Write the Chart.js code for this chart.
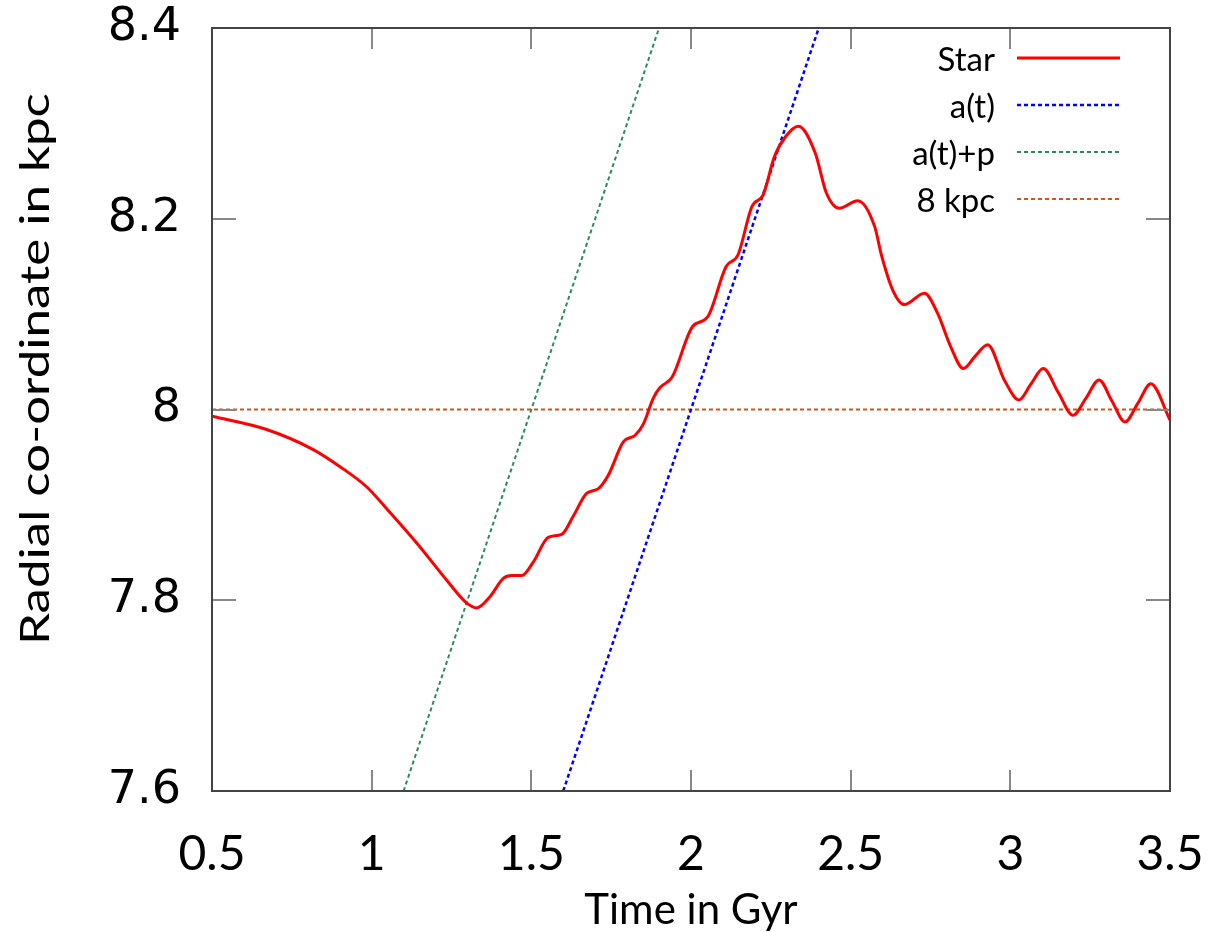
<!DOCTYPE html>
<html>
<head>
<meta charset="utf-8">
<script src="https://cdn.jsdelivr.net/npm/chart.js@4.4.1/dist/chart.umd.min.js"></script>
<style>
  html, body { margin: 0; padding: 0; background: #fff; }
  #graficcontainer { width: 1224px; height: 932px; }
</style>
</head>
<body>
<div id="graficcontainer"><canvas id="grafico" width="1224" height="932"></canvas></div>
<script>
// valores
const starTime = [0.5, 0.671, 0.817, 0.901, 0.984, 1.047, 1.141, 1.235, 1.298, 1.329, 1.371, 1.412, 1.439, 1.47,
  1.506, 1.553, 1.595, 1.631, 1.673, 1.71, 1.741, 1.788, 1.825, 1.851, 1.882, 1.903, 1.941, 2.005, 2.052,
  2.11, 2.147, 2.191, 2.226, 2.261, 2.296, 2.336, 2.389, 2.424, 2.464, 2.522, 2.575, 2.597, 2.632, 2.668,
  2.731, 2.772, 2.813, 2.853, 2.89, 2.929, 2.981, 3.027, 3.065, 3.103, 3.15, 3.196, 3.237, 3.278, 3.318,
  3.359, 3.4, 3.44, 3.5]
const starRadius = [7.993, 7.979, 7.958, 7.94, 7.919, 7.896, 7.86, 7.821, 7.797, 7.792, 7.804, 7.823, 7.826, 7.826,
  7.84, 7.866, 7.869, 7.888, 7.912, 7.917, 7.931, 7.966, 7.973, 7.985, 8.012, 8.023, 8.034, 8.087, 8.097,
  8.15, 8.162, 8.213, 8.225, 8.265, 8.286, 8.297, 8.269, 8.227, 8.211, 8.219, 8.192, 8.161, 8.125, 8.11,
  8.122, 8.101, 8.066, 8.043, 8.056, 8.068, 8.031, 8.01, 8.027, 8.043, 8.018, 7.994, 8.012, 8.031, 8.009,
  7.987, 8.007, 8.027, 7.989]
const aTime = [1.6, 2.4]
const aRadius = [7.6, 8.4]
const apTime = [1.1, 1.9]
const apRadius = [7.6, 8.4]
const refTime = [0.5, 3.5]
const refRadius = [8, 8]
const seriesNames = ['Star', 'a(t)', 'a(t)+p', '8 kpc']

const xTicks = [0.5, 1, 1.5, 2, 2.5, 3, 3.5]
const xTickLabels = ['0.5', '1', '1.5', '2', '2.5', '3', '3.5']
const yTicks = [7.6, 7.8, 8, 8.2, 8.4]
const yTickLabels = ['7.6', '7.8', '8', '8.2', '8.4']

const toPoints = (xs, ys) => xs.map((x, i) => ({ x: x, y: ys[i] }))

// marco, ticks hacia adentro, leyenda y titulo Y al estilo gnuplot
const gnuplotLook = {
  id: 'gnuplotLook',
  afterDraw(chart) {
    const ctx = chart.ctx
    const a = chart.chartArea
    const xs = chart.scales.x
    const ys = chart.scales.y

    ctx.save()
    ctx.strokeStyle = '#888'
    ctx.lineWidth = 2
    ctx.beginPath()
    xTicks.forEach(v => {
      const px = Math.round(xs.getPixelForValue(v))
      ctx.moveTo(px, a.bottom); ctx.lineTo(px, a.bottom - 21)
      ctx.moveTo(px, a.top); ctx.lineTo(px, a.top + 21)
    })
    yTicks.forEach(v => {
      const py = Math.round(ys.getPixelForValue(v))
      ctx.moveTo(a.left, py); ctx.lineTo(a.left + 24, py)
      ctx.moveTo(a.right, py); ctx.lineTo(a.right - 24, py)
    })
    ctx.stroke()

    ctx.strokeStyle = '#444'
    ctx.lineWidth = 2
    ctx.strokeRect(a.left, a.top, a.right - a.left, a.bottom - a.top)

    // leyenda
    ctx.font = '33px Lato'
    ctx.fillStyle = '#000'
    ctx.textAlign = 'right'
    ctx.textBaseline = 'alphabetic'
    chart.data.datasets.forEach((ds, i) => {
      const rowY = 58 + 47 * i
      ctx.fillText(ds.label, 995, rowY + 13)
      ctx.beginPath()
      ctx.setLineDash(ds.borderDash || [])
      ctx.strokeStyle = ds.borderColor
      ctx.lineWidth = ds.borderWidth
      ctx.moveTo(1017, rowY)
      ctx.lineTo(1120, rowY)
      ctx.stroke()
    })
    ctx.setLineDash([])

    // titulo del eje Y
    const t = 'Radial co-ordinate in kpc'
    ctx.translate(49, 369)
    ctx.rotate(-Math.PI / 2)
    ctx.font = '40px Lato'
    const w = ctx.measureText(t).width
    ctx.scale(552 / w, 1)
    ctx.textAlign = 'center'
    ctx.fillText(t, 0, 0)
    ctx.restore()
  }
}

const config = {
  type: 'line',
  data: {
    datasets: [{
      label: seriesNames[0],
      data: toPoints(starTime, starRadius),
      borderColor: '#ff0000',
      borderWidth: 3,
      cubicInterpolationMode: 'monotone',
      pointRadius: 0
    }, {
      label: seriesNames[1],
      data: toPoints(aTime, aRadius),
      borderColor: '#0000ff',
      borderWidth: 2.5,
      borderDash: [4, 3],
      pointRadius: 0
    }, {
      label: seriesNames[2],
      data: toPoints(apTime, apRadius),
      borderColor: '#2f8a58',
      borderWidth: 2,
      borderDash: [4, 3],
      pointRadius: 0
    }, {
      label: seriesNames[3],
      data: toPoints(refTime, refRadius),
      borderColor: '#c8581e',
      borderWidth: 2,
      borderDash: [4, 3],
      pointRadius: 0
    }]
  },
  options: {
    responsive: false,
    animation: false,
    devicePixelRatio: 1,
    layout: { padding: { top: 28, right: 54, left: 0, bottom: 0 } },
    plugins: { legend: { display: false }, tooltip: { enabled: false } },
    scales: {
      x: {
        type: 'linear',
        min: 0.5,
        max: 3.5,
        afterBuildTicks: (scale) => { scale.ticks = xTicks.map(v => ({ value: v })) },
        afterFit: (scale) => {
          scale.height = 141
          scale.paddingLeft = 0
          scale.paddingRight = 0
        },
        grid: { display: false, drawTicks: false },
        border: { display: false },
        ticks: {
          autoSkip: false,
          maxRotation: 0,
          padding: 35,
          color: '#000',
          font: { family: 'Lato', size: 48 },
          callback: (v) => xTickLabels[xTicks.indexOf(v)]
        },
        title: {
          display: true,
          text: 'Time in Gyr',
          color: '#000',
          font: { family: 'Lato', size: 42, lineHeight: 1 },
          padding: { top: 0, bottom: 1 }
        }
      },
      y: {
        type: 'linear',
        min: 7.6,
        max: 8.4,
        afterBuildTicks: (scale) => { scale.ticks = yTicks.map(v => ({ value: v })) },
        afterFit: (scale) => {
          scale.width = 212
          scale.paddingTop = 0
          scale.paddingBottom = 0
        },
        grid: { display: false, drawTicks: false },
        border: { display: false },
        ticks: {
          autoSkip: false,
          padding: 31,
          color: '#000',
          font: { family: 'DejaVu Sans', size: 46 },
          callback: (v) => yTickLabels[yTicks.indexOf(v)]
        }
      }
    }
  },
  plugins: [gnuplotLook]
}

const dibujar = () => {
  new Chart(document.getElementById('grafico'), config)
}

Promise.all([
  document.fonts.load('48px Lato'),
  document.fonts.load('46px "DejaVu Sans"')
]).then(dibujar).catch(dibujar)
</script>
</body>
</html>
